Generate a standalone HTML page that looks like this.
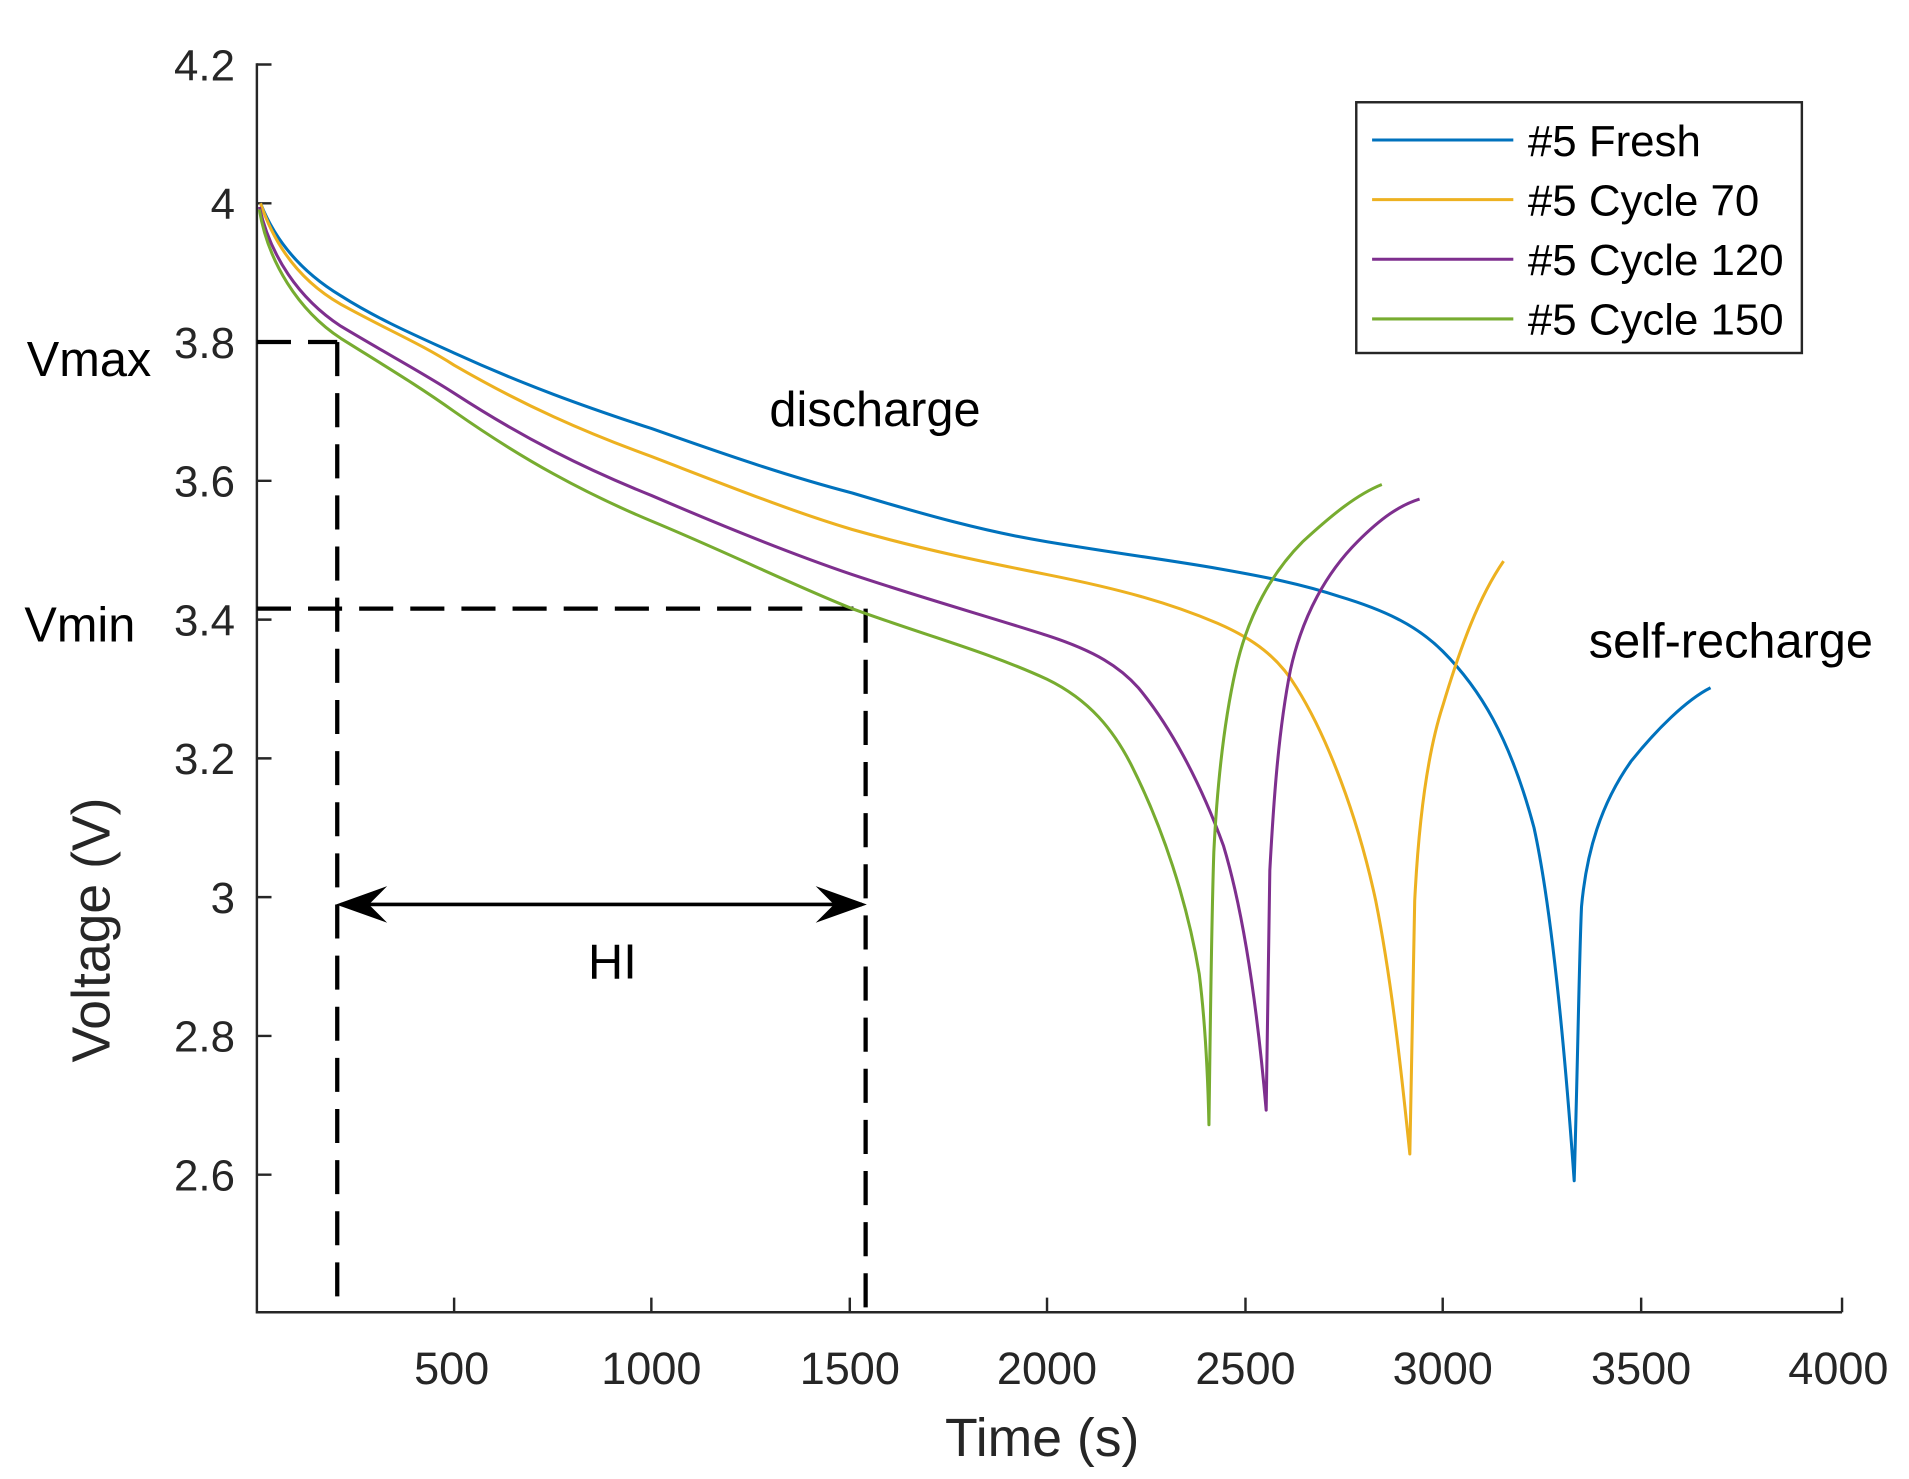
<!DOCTYPE html>
<html><head><meta charset="utf-8"><style>
html,body{margin:0;padding:0;background:#fff}
svg{display:block}
text{font-family:"Liberation Sans",Arial,sans-serif;fill:#262626}
</style></head><body>
<svg width="1909" height="1479" viewBox="0 0 1568 1215" preserveAspectRatio="none" xmlns="http://www.w3.org/2000/svg">
<rect width="1568" height="1215" fill="#fff"/>
<g stroke="#262626" stroke-width="2" fill="none">
<path d="M211,52 V1078 H1513"/>
<path d="M211,53 h12 M211,167 h12 M211,281 h12 M211,395 h12 M211,509 h12 M211,623 h12 M211,737 h12 M211,851 h12 M211,965 h12"/>
<path d="M373,1078 v-12 M535,1078 v-12 M698,1078 v-12 M860,1078 v-12 M1023,1078 v-12 M1185,1078 v-12 M1348,1078 v-12 M1513,1078 v-12"/>
</g>
<g font-size="36" text-anchor="end">
<text x="193" y="66">4.2</text><text x="193" y="180">4</text><text x="193" y="294">3.8</text><text x="193" y="408">3.6</text><text x="193" y="522">3.4</text><text x="193" y="636">3.2</text><text x="193" y="750">3</text><text x="193" y="864">2.8</text><text x="193" y="978">2.6</text>
</g>
<g font-size="37" text-anchor="middle">
<text x="371" y="1137">500</text><text x="535" y="1137">1000</text><text x="698" y="1137">1500</text><text x="860" y="1137">2000</text><text x="1023" y="1137">2500</text><text x="1185" y="1137">3000</text><text x="1348" y="1137">3500</text><text x="1510" y="1137">4000</text>
</g>
<text x="856" y="1196" font-size="44" text-anchor="middle">Time (s)</text>
<text transform="translate(90,764) rotate(-90)" font-size="44" text-anchor="middle">Voltage (V)</text>
<g stroke="#000" stroke-width="3.5" fill="none" stroke-dasharray="28,14">
<path d="M211,281 H277"/><path d="M277,281 V1078"/>
<path d="M211,500 H711"/><path d="M711,500 V1078"/>
</g>
<g stroke="#000" stroke-width="3" fill="none">
<path d="M280,743 H708"/>
</g>
<path d="M276,743 L318,728 L303,743 L318,758 Z" fill="#000"/>
<path d="M712,743 L670,728 L685,743 L670,758 Z" fill="#000"/>
<g fill="none" stroke-width="2.5" stroke-linejoin="round">
<path stroke="#0072BD" d="M214,167 C225,195 245,222 280,243 C310,262 340,275 373,290 C430,316 480,334 535,352 C600,375 650,392 700,405 C760,423 810,437 860,445 C920,455 960,460 1000,467 C1040,474 1070,480 1100,490 C1140,502 1165,515 1185,535 C1215,565 1240,605 1260,680 C1272,735 1283,830 1293,970 C1296,870 1297,790 1299,745 C1303,700 1315,660 1340,625 C1360,600 1385,575 1405,565"/>
<path stroke="#EDB120" d="M214,167 C225,200 245,230 280,250 C320,272 345,282 373,300 C430,333 480,355 535,375 C600,400 650,420 700,435 C760,452 810,462 860,472 C920,484 960,495 1000,512 C1030,525 1050,540 1065,565 C1090,605 1115,670 1130,740 C1142,800 1150,870 1158,948 C1160,850 1161,780 1162,740 C1165,680 1172,620 1185,580 C1200,530 1215,490 1235,461"/>
<path stroke="#7E2F8E" d="M213,170 C222,210 245,245 280,268 C320,292 345,305 373,323 C430,360 480,385 535,407 C600,435 650,455 700,472 C760,492 810,506 860,522 C900,535 920,548 935,565 C960,595 985,640 1005,695 C1020,745 1032,820 1040,912 C1041,830 1042,760 1043,715 C1046,660 1050,600 1060,550 C1070,505 1090,470 1115,445 C1135,425 1150,415 1166,410"/>
<path stroke="#77AC30" d="M213,172 C220,215 245,255 280,278 C320,303 345,318 373,338 C430,378 480,405 535,428 C600,455 650,480 700,500 C760,522 810,535 860,558 C895,575 915,600 930,630 C955,680 975,740 985,800 C990,840 992,880 993,924 C994,850 995,760 997,700 C1000,640 1006,590 1015,550 C1025,505 1045,470 1070,445 C1095,422 1115,406 1135,398"/>
</g>
<g font-size="40">
<text x="22" y="309" style="fill:#000">Vmax</text>
<text x="20" y="527" style="fill:#000">Vmin</text>
<text x="632" y="350" style="fill:#000">discharge</text>
<text x="1305" y="540" style="fill:#000">self-recharge</text>
<text x="483" y="804" style="fill:#000">HI</text>
</g>
<rect x="1114" y="84" width="366" height="206" fill="#fff" stroke="#262626" stroke-width="2"/>
<g stroke-width="2.5">
<path d="M1127,115 H1243" stroke="#0072BD"/>
<path d="M1127,164 H1243" stroke="#EDB120"/>
<path d="M1127,213 H1243" stroke="#7E2F8E"/>
<path d="M1127,262 H1243" stroke="#77AC30"/>
</g>
<g font-size="36">
<text x="1255" y="128" style="fill:#000">#5 Fresh</text>
<text x="1255" y="177" style="fill:#000">#5 Cycle 70</text>
<text x="1255" y="226" style="fill:#000">#5 Cycle 120</text>
<text x="1255" y="275" style="fill:#000">#5 Cycle 150</text>
</g>
</svg>
</body></html>
